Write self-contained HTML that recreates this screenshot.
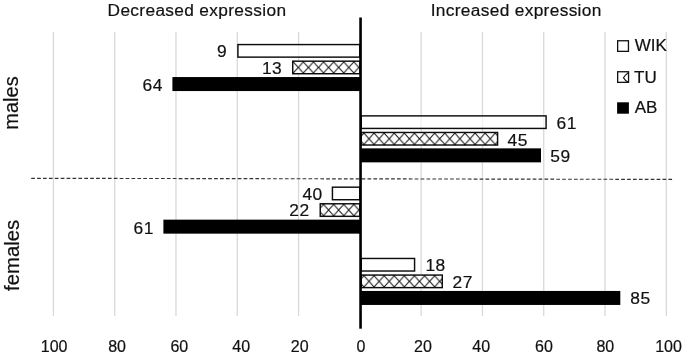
<!DOCTYPE html>
<html><head><meta charset="utf-8"><style>
html,body{margin:0;padding:0;background:#fff;}
body{width:685px;height:355px;overflow:hidden;}
svg{display:block;will-change:transform;}
text{font-family:"Liberation Sans",sans-serif;fill:#111;stroke:#111;stroke-width:0.2px;}
.dl{font-size:17.4px;letter-spacing:0.55px;}
.ax{font-size:16px;}
.ti{font-size:17.3px;letter-spacing:0.34px;}
.lg{font-size:17px;}
.cat{font-size:20px;}
</style></head><body>
<svg width="685" height="355" viewBox="0 0 685 355">
<defs><pattern id="h1" patternUnits="userSpaceOnUse" x="323.55" y="61.90" width="10.1" height="11.10"><path d="M0 0L10.1 11.10M10.1 0L0 11.10" stroke="#111" stroke-width="1.05" fill="none"/></pattern><pattern id="h4" patternUnits="userSpaceOnUse" x="323.55" y="133.20" width="10.1" height="11.10"><path d="M0 0L10.1 11.10M10.1 0L0 11.10" stroke="#111" stroke-width="1.05" fill="none"/></pattern><pattern id="h7" patternUnits="userSpaceOnUse" x="323.55" y="204.50" width="10.1" height="11.10"><path d="M0 0L10.1 11.10M10.1 0L0 11.10" stroke="#111" stroke-width="1.05" fill="none"/></pattern><pattern id="h10" patternUnits="userSpaceOnUse" x="323.55" y="275.80" width="10.1" height="11.10"><path d="M0 0L10.1 11.10M10.1 0L0 11.10" stroke="#111" stroke-width="1.05" fill="none"/></pattern></defs>
<rect x="52.75" y="32" width="1.3" height="284" fill="#d9d9d9"/>
<rect x="114.04" y="32" width="1.3" height="284" fill="#d9d9d9"/>
<rect x="175.33" y="32" width="1.3" height="284" fill="#d9d9d9"/>
<rect x="236.62" y="32" width="1.3" height="284" fill="#d9d9d9"/>
<rect x="297.91" y="32" width="1.3" height="284" fill="#d9d9d9"/>
<rect x="420.49" y="32" width="1.3" height="284" fill="#d9d9d9"/>
<rect x="481.78" y="32" width="1.3" height="284" fill="#d9d9d9"/>
<rect x="543.07" y="32" width="1.3" height="284" fill="#d9d9d9"/>
<rect x="604.36" y="32" width="1.3" height="284" fill="#d9d9d9"/>
<rect x="665.65" y="32" width="1.3" height="284" fill="#d9d9d9"/>
<rect x="237.92" y="44.58" width="121.90" height="12.55" fill="rgba(255,255,255,0.65)" stroke="#0d0d0d" stroke-width="1.45"/>
<text x="227.15" y="57.00" text-anchor="end" class="dl">9</text>
<rect x="292.00" y="60.45" width="68.55" height="14.0" fill="#fff"/>
<rect x="292.73" y="61.18" width="67.10" height="12.55" fill="url(#h1)" stroke="#0d0d0d" stroke-width="1.45"/>
<text x="282.35" y="73.60" text-anchor="end" class="dl">13</text>
<rect x="172.40" y="77.05" width="188.15" height="14.0" fill="#000"/>
<text x="162.95" y="90.70" text-anchor="end" class="dl">64</text>
<rect x="361.28" y="115.88" width="184.80" height="12.55" fill="rgba(255,255,255,0.65)" stroke="#0d0d0d" stroke-width="1.45"/>
<text x="556.50" y="128.50" class="dl">61</text>
<rect x="360.55" y="131.75" width="137.75" height="14.0" fill="#fff"/>
<rect x="361.28" y="132.47" width="136.30" height="12.55" fill="url(#h4)" stroke="#0d0d0d" stroke-width="1.45"/>
<text x="507.50" y="145.60" class="dl">45</text>
<rect x="360.55" y="148.35" width="180.45" height="14.0" fill="#000"/>
<text x="550.30" y="161.80" class="dl">59</text>
<rect x="332.43" y="187.18" width="27.40" height="12.55" fill="rgba(255,255,255,0.65)" stroke="#0d0d0d" stroke-width="1.45"/>
<text x="322.85" y="199.80" text-anchor="end" class="dl">40</text>
<rect x="319.50" y="203.05" width="41.05" height="14.0" fill="#fff"/>
<rect x="320.23" y="203.78" width="39.60" height="12.55" fill="url(#h7)" stroke="#0d0d0d" stroke-width="1.45"/>
<text x="309.65" y="216.20" text-anchor="end" class="dl">22</text>
<rect x="163.40" y="219.65" width="197.15" height="14.0" fill="#000"/>
<text x="153.95" y="233.50" text-anchor="end" class="dl">61</text>
<rect x="361.28" y="258.47" width="53.30" height="12.55" fill="rgba(255,255,255,0.65)" stroke="#0d0d0d" stroke-width="1.45"/>
<text x="425.40" y="271.00" class="dl">18</text>
<rect x="360.55" y="274.35" width="82.45" height="14.0" fill="#fff"/>
<rect x="361.28" y="275.07" width="81.00" height="12.55" fill="url(#h10)" stroke="#0d0d0d" stroke-width="1.45"/>
<text x="452.60" y="287.80" class="dl">27</text>
<rect x="360.55" y="290.95" width="259.75" height="14.0" fill="#000"/>
<text x="630.20" y="304.00" class="dl">85</text>
<line x1="31.2" y1="178.3" x2="672.1" y2="179.4" stroke="#333" stroke-width="1.15" stroke-dasharray="3.7 2.2"/>
<rect x="359.25" y="17.5" width="2.60" height="311.20" fill="#000"/>
<text x="54.10" y="352" text-anchor="middle" class="ax">100</text>
<text x="117.10" y="352" text-anchor="middle" class="ax">80</text>
<text x="179.30" y="352" text-anchor="middle" class="ax">60</text>
<text x="241.20" y="352" text-anchor="middle" class="ax">40</text>
<text x="299.70" y="352" text-anchor="middle" class="ax">20</text>
<text x="361.00" y="352" text-anchor="middle" class="ax">0</text>
<text x="423.00" y="352" text-anchor="middle" class="ax">20</text>
<text x="481.20" y="352" text-anchor="middle" class="ax">40</text>
<text x="543.90" y="352" text-anchor="middle" class="ax">60</text>
<text x="605.30" y="352" text-anchor="middle" class="ax">80</text>
<text x="668.50" y="352" text-anchor="middle" class="ax">100</text>
<text x="196.8" y="15.8" text-anchor="middle" class="ti" dx="0.17">Decreased expression</text>
<text x="516" y="15.8" text-anchor="middle" class="ti" dx="0.17">Increased expression</text>
<text transform="translate(17.5 103) rotate(-90)" text-anchor="middle" class="cat">males</text>
<text transform="translate(19.1 255.4) rotate(-90)" text-anchor="middle" class="cat" style="font-size:20.3px">females</text>
<rect x="617.65" y="40.75" width="10.8" height="10.6" fill="#fff" stroke="#111" stroke-width="1.3"/>
<rect x="617.65" y="71.75" width="10.9" height="10.6" fill="#fff" stroke="#111" stroke-width="1.3"/>
<path d="M628.3 72.6Q624.6 75.6 623.5 77.7Q624.8 80.2 628.1 82.2" fill="none" stroke="#111" stroke-width="1.2"/>
<rect x="617.1" y="102.3" width="11.8" height="11.4" fill="#000"/>
<text x="634.7" y="51.2" class="lg">WIK</text>
<text x="634.0" y="82.9" class="lg">TU</text>
<text x="634.7" y="113.2" class="lg">AB</text>
</svg>
</body></html>
